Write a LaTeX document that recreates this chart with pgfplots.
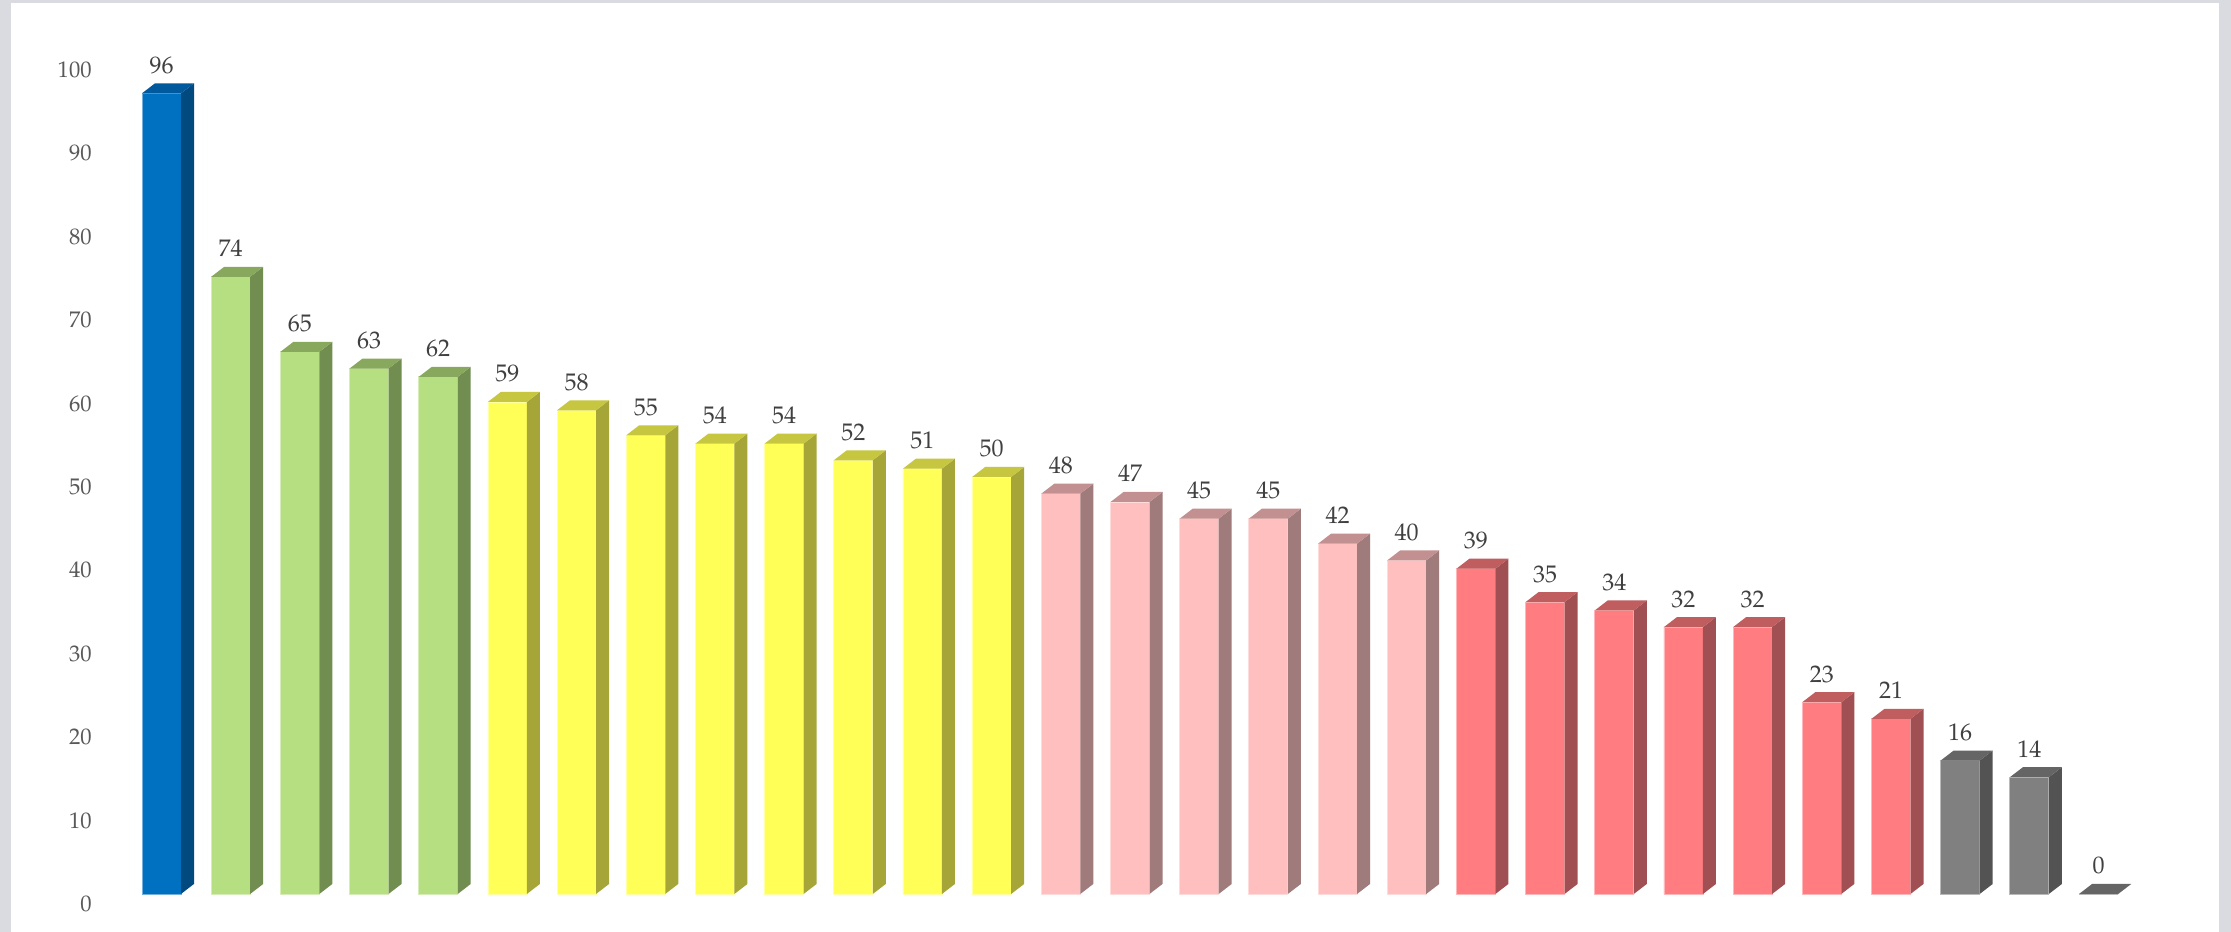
\documentclass[border=0pt]{standalone}
\usepackage[T1]{fontenc}
\usepackage{mathpazo}
\usepackage{pgfplots}
\pgfplotsset{compat=1.18}

\definecolor{bordergray}{HTML}{D9DBE0}
\definecolor{tickgray}{HTML}{595959}
\definecolor{labelgray}{HTML}{404040}
% blue
\definecolor{bfront}{HTML}{0070C0}\definecolor{bside}{HTML}{004A80}\definecolor{btop}{HTML}{00599C}
% green
\definecolor{gfront}{HTML}{B5DF80}\definecolor{gside}{HTML}{718D50}\definecolor{gtop}{HTML}{88A85E}
% yellow
\definecolor{yfront}{HTML}{FFFF57}\definecolor{yside}{HTML}{A6A638}\definecolor{ytop}{HTML}{C6C640}
% pink
\definecolor{pfront}{HTML}{FFBFBF}\definecolor{pside}{HTML}{A07B7B}\definecolor{ptop}{HTML}{C29090}
% red
\definecolor{rfront}{HTML}{FF7C80}\definecolor{rside}{HTML}{A05052}\definecolor{rtop}{HTML}{C05D5F}
% gray
\definecolor{kfront}{HTML}{808080}\definecolor{kside}{HTML}{535353}\definecolor{ktop}{HTML}{656565}

\colorlet{sidec}{black}\colorlet{topc}{black}

% side and top faces of a 3D bar; origin = top centre of the front face
\pgfdeclareplotmark{prism}{%
  \pgfmathsetmacro\hh{\rawy*4.17}%
  \pgfpathmoveto{\pgfpoint{9.75pt}{-\hh pt}}%
  \pgfpathlineto{\pgfpoint{16.25pt}{5pt-\hh pt}}%
  \pgfpathlineto{\pgfpoint{16.25pt}{5pt}}%
  \pgfpathlineto{\pgfpoint{9.75pt}{0pt}}%
  \pgfpathclose
  \pgfsetfillcolor{sidec}\pgfusepath{fill}%
  \pgfpathmoveto{\pgfpoint{-9.75pt}{0pt}}%
  \pgfpathlineto{\pgfpoint{9.75pt}{0pt}}%
  \pgfpathlineto{\pgfpoint{16.25pt}{5pt}}%
  \pgfpathlineto{\pgfpoint{-3.25pt}{5pt}}%
  \pgfpathclose
  \pgfsetfillcolor{topc}\pgfusepath{fill}%
}

\pgfplotsset{
  front/.style={ybar, bar width=19.5pt, bar shift=0pt, fill=#1, draw=#1!55!white, line width=0.4pt,
    nodes near coords,
    every node near coord/.append style={anchor=base, yshift=10pt, inner sep=0pt,
      font=\fontsize{12}{14}\selectfont, text=labelgray}},
  depth/.style 2 args={scatter, only marks, mark=prism, scatter/use mapped color={draw=none,fill=none},
    visualization depends on={rawy \as \rawy},
    /utils/exec={\colorlet{sidec}{#1}\colorlet{topc}{#2}}},
}

\begin{document}
\begin{tikzpicture}
\fill[bordergray] (0,0) rectangle (1115.5pt,466pt);
\fill[white] (5.5pt,0) rectangle (1109.5pt,464.5pt);
\begin{axis}[
  at={(0,0)}, anchor=south west,
  scale only axis, width=1115.5pt, height=466pt,
  xmin=-2.3345, xmax=29.915, ymin=-4.556, ymax=107.19,
  axis line style={draw=none}, tick style={draw=none},
  /pgf/number format/assume math mode=true,
  xtick=\empty, ytick={0,10,...,100},
  yticklabel style={anchor=east, inner sep=0pt, xshift=46pt, yshift=-5pt,
    font=\fontsize{11.3}{13}\selectfont, text=tickgray},
  clip=false,
]
% blue
\addplot[front=bfront] coordinates {(0,96)};
\addplot[depth={bside}{btop}] coordinates {(0,96)};
% green
\addplot[front=gfront] coordinates {(1,74) (2,65) (3,63) (4,62)};
\addplot[depth={gside}{gtop}] coordinates {(1,74) (2,65) (3,63) (4,62)};
% yellow
\addplot[front=yfront] coordinates {(5,59) (6,58) (7,55) (8,54) (9,54) (10,52) (11,51) (12,50)};
\addplot[depth={yside}{ytop}] coordinates {(5,59) (6,58) (7,55) (8,54) (9,54) (10,52) (11,51) (12,50)};
% pink
\addplot[front=pfront] coordinates {(13,48) (14,47) (15,45) (16,45) (17,42) (18,40)};
\addplot[depth={pside}{ptop}] coordinates {(13,48) (14,47) (15,45) (16,45) (17,42) (18,40)};
% red
\addplot[front=rfront] coordinates {(19,39) (20,35) (21,34) (22,32) (23,32) (24,23) (25,21)};
\addplot[depth={rside}{rtop}] coordinates {(19,39) (20,35) (21,34) (22,32) (23,32) (24,23) (25,21)};
% gray
\addplot[front=kfront] coordinates {(26,16) (27,14) (28,0)};
\addplot[depth={kside}{ktop}] coordinates {(26,16) (27,14) (28,0)};
\end{axis}
\end{tikzpicture}
\end{document}
